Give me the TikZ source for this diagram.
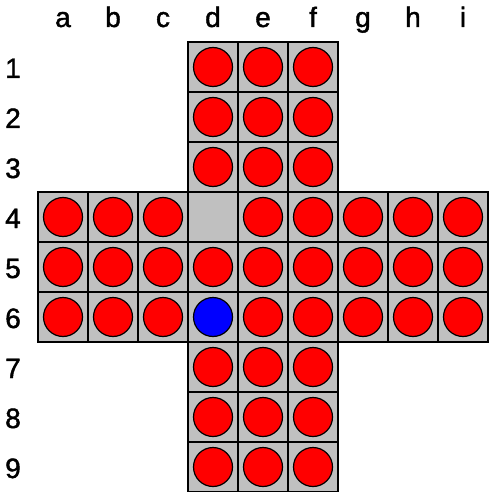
\documentclass[tikz,border=0pt]{standalone}
\usepackage{fontspec}
\setmainfont{Liberation Sans}
\newfontfamily\labelfont{Liberation Sans}[FakeBold=1.5]
\definecolor{boardgray}{HTML}{C0C0C0}
\definecolor{pegred}{HTML}{FF0000}
\definecolor{pegblue}{HTML}{0000FF}
\tikzset{
  cell/.style={rectangle, minimum size=50pt, inner sep=0pt, fill=boardgray, draw=black, line width=2.5pt},
  peg/.style={circle, minimum size=39pt, inner sep=0pt, fill=pegred, draw=black, line width=1.2pt},
  bluepeg/.style={peg, fill=pegblue},
  lbl/.style={inner sep=0pt, anchor=base, font=\fontsize{28}{28}\labelfont}
}
\begin{document}
\begin{tikzpicture}[x=1pt,y=-1pt]
\useasboundingbox (0,0) rectangle (488,492);
% column letters
\foreach \c [count=\i from 0] in {a,b,c,d,e,f,g,h,i} {
  \node[lbl] (col-\c) at ({63+50*\i},27) {\c};
}
% row numbers
\foreach \r in {1,...,9} {
  \node[lbl] (row-\r) at (13,{42+50*(\r-1)+36}) {\r};
}
% vertical arm cells (columns d,e,f; rows 1-3 and 7-9)
\foreach \c [count=\i from 3] in {d,e,f} {
  \foreach \r in {1,2,3,7,8,9} {
    \node[cell] (cell-\c\r) at ({63+50*\i},{67+50*(\r-1)}) {};
  }
}
% horizontal band (rows 4-6, all columns)
\foreach \c [count=\i from 0] in {a,b,c,d,e,f,g,h,i} {
  \foreach \r in {4,5,6} {
    \node[cell] (cell-\c\r) at ({63+50*\i},{67+50*(\r-1)}) {};
  }
}
% pegs
\foreach \c in {d,e,f} {
  \foreach \r in {1,2,3,7,8,9} {
    \node[peg] (peg-\c\r) at (cell-\c\r) {};
  }
}
\foreach \c in {a,b,c,e,f,g,h,i} {
  \node[peg] (peg-\c4) at (cell-\c4) {};
}
\foreach \c in {a,b,c,d,e,f,g,h,i} {
  \node[peg] (peg-\c5) at (cell-\c5) {};
}
\foreach \c in {a,b,c,e,f,g,h,i} {
  \node[peg] (peg-\c6) at (cell-\c6) {};
}
\node[bluepeg] (peg-d6) at (cell-d6) {};
\end{tikzpicture}
\end{document}
